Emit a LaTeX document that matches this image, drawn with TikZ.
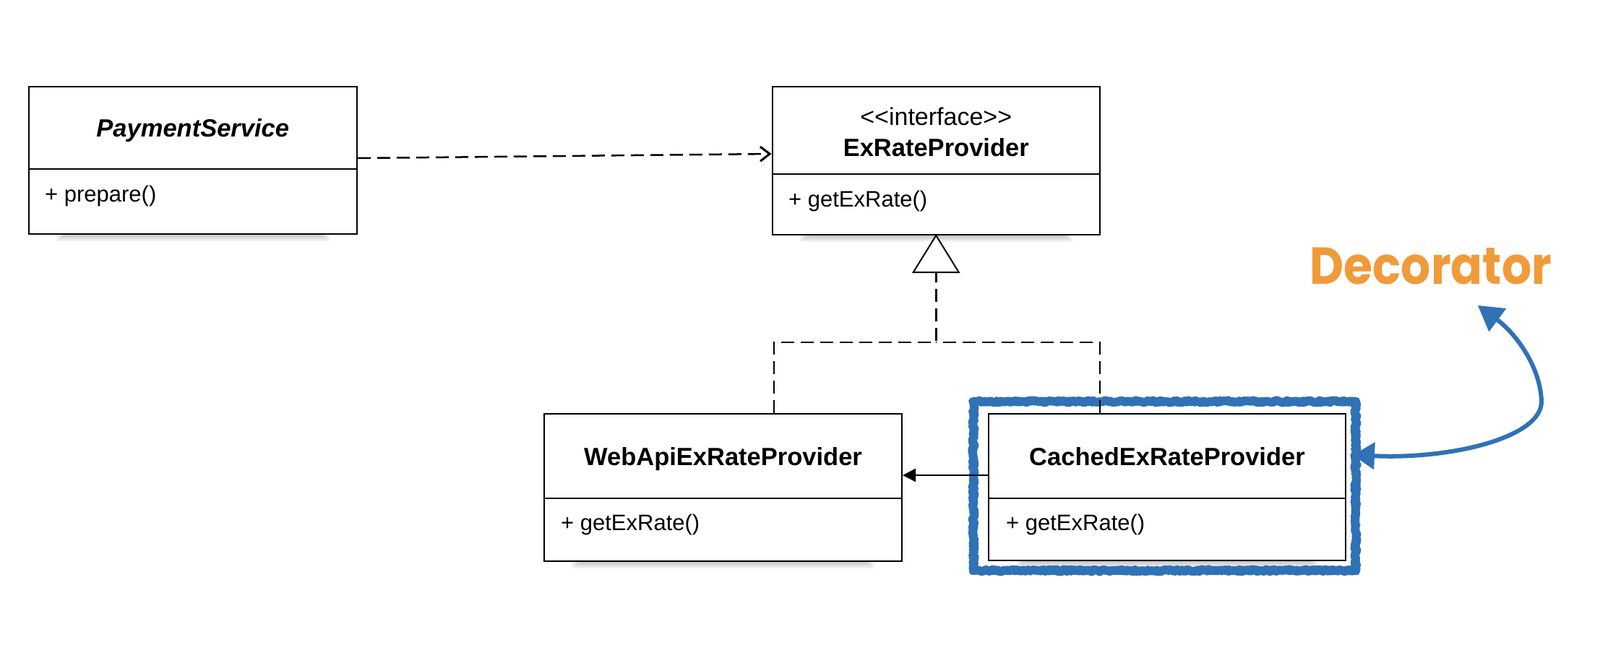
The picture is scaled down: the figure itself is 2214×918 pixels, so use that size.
\documentclass[tikz,border=0pt]{standalone}
\usepackage{fontspec}
\setmainfont{Liberation Sans}
\newfontfamily\decofont{Poppins}
\usetikzlibrary{arrows.meta,decorations.pathmorphing}
\definecolor{decoblue}{RGB}{47,114,181}
\definecolor{decoorange}{RGB}{240,155,58}
\begin{document}
\begin{tikzpicture}[x=1pt,y=-1pt,
  umlbox/.style={draw=black,line width=2pt,fill=white,inner sep=0pt},
  hdr/.style={font=\fontsize{34.5}{41}\selectfont\bfseries,inner sep=0pt,anchor=base},
  hdrit/.style={font=\fontsize{34.5}{41}\selectfont\bfseries\itshape,inner sep=0pt,anchor=base},
  stereo/.style={font=\fontsize{34}{41}\selectfont,inner sep=0pt,anchor=base},
  mem/.style={font=\fontsize{31}{37}\selectfont,inner sep=0pt,anchor=base west},
  divline/.style={line width=2pt},
  dep/.style={line width=2.5pt,dash pattern=on 18pt off 9pt},
  blueframe/.style={draw=decoblue,line width=12pt,line join=round,decorate,
     decoration={random steps,segment length=3pt,amplitude=1.6pt},inner sep=0pt},
  bluerough/.style={draw=decoblue,line width=2pt,line join=round,decorate,
     decoration={random steps,segment length=2pt,amplitude=2pt},inner sep=0pt},
  bluearrow/.style={draw=decoblue,line width=6pt,line cap=round}
]
\useasboundingbox (0,0) rectangle (2214,918);

% shadows
\foreach \xa/\xb/\yb in {39.5/494/324, 1068.5/1522/325, 753/1248/777, 1368/1862/776}{
  \foreach \i in {0,...,4}{
    \fill[black,opacity=0.05] (\xa+38+3*\i,\yb) rectangle (\xb-38-3*\i,\yb+10-2*\i);
  }
}

% boxes
\node[umlbox,minimum width=454.5pt,minimum height=204pt] (ps) at (266.75,222) {};
\node[umlbox,minimum width=453.5pt,minimum height=205pt] (ex) at (1295.25,222.5) {};
\node[umlbox,minimum width=495pt,minimum height=204pt] (web) at (1000.5,675) {};
\node[umlbox,minimum width=494pt,minimum height=203pt] (cached) at (1615,674.5) {};

% dividers
\draw[divline] (ps.west |- 0,234) -- (ps.east |- 0,234);
\draw[divline] (ex.west |- 0,241) -- (ex.east |- 0,241);
\draw[divline] (web.west |- 0,690) -- (web.east |- 0,690);
\draw[divline] (cached.west |- 0,690) -- (cached.east |- 0,690);

% texts
\node[hdrit] (psname) at (266.75,189) {PaymentService};
\node[mem] (psm) at (62,279) {+ prepare()};
\node[stereo] (exst) at (1295.25,173) {<\kern0pt<interface>\kern0pt>};
\node[hdr] (exname) at (1295.25,216) {ExRateProvider};
\node[mem] (exm) at (1091,286) {+ getExRate()};
\node[hdr] (webname) at (1000.5,644) {WebApiExRateProvider};
\node[mem] (webm) at (776,734) {+ getExRate()};
\node[hdr] (cachedname) at (1615,644) {CachedExRateProvider};
\node[mem] (cachedm) at (1392,734) {+ getExRate()};

% decorator frame
\node[blueframe,minimum width=529pt,minimum height=234pt] (frame) at (1611.5,673) {};
\node[bluerough,minimum width=537pt,minimum height=242pt] (frameout) at (1611.5,673) {};
\node[bluerough,minimum width=521pt,minimum height=226pt] (framein) at (1611.5,673) {};

% generalization triangle
\draw[line width=2pt,fill=white,line join=miter] (ex.south) -- ++(-31.5,51) -- ++(63,0) -- cycle;
\coordinate (tribase) at ([yshift=-51pt]ex.south);
\coordinate (junction) at (tribase |- 0,474);

% realization lines
\draw[dep] ([xshift=70.5pt]web.north) |- (junction) -- (tribase);
\draw[dep] ([xshift=-93pt]cached.north) |- (junction);

% dependency
\draw[dep,-{Straight Barb[length=13pt,width=20pt,line width=3pt]}] ([yshift=3pt]ps.east) -- ([yshift=9.5pt]ex.west);

% association
\draw[line width=2.5pt,-{Triangle[length=18pt,width=18pt]}] ([yshift=16.5pt]cached.west) -- ([yshift=17pt]web.east);

% Decorator label
\node[font=\decofont\bfseries\fontsize{72}{80}\selectfont,text=decoorange,anchor=base,inner sep=0pt,xscale=0.9] (dec) at (1980,393) {Decorator};

% blue arrow
\coordinate (a1) at (1872,630);
\coordinate (a2) at (2045,423);
\draw[bluearrow,{Triangle[length=30pt,width=38pt,line width=1pt]}-{Triangle[length=34pt,width=40pt,line width=1pt]}]
  (a1) .. controls (2010,636) and (2135,605) .. (2133,555) .. controls (2131,505) and (2095,460) .. (a2);
\end{tikzpicture}
\end{document}
